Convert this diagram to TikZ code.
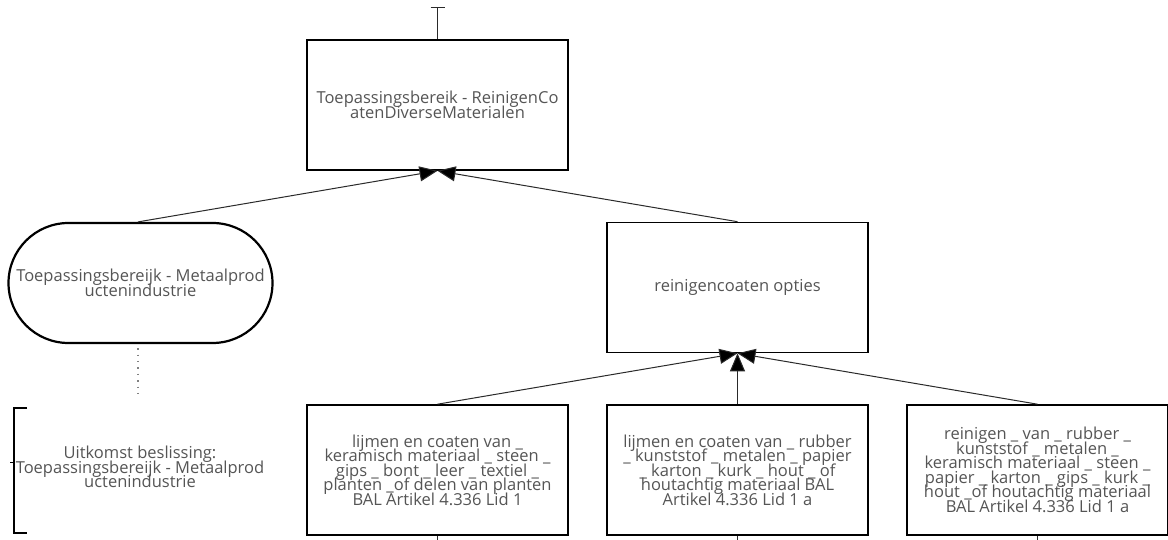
\documentclass[tikz,border=0pt]{standalone}
\usepackage{fontspec}
\setmainfont{Open Sans}
\usetikzlibrary{arrows.meta,shapes.misc}
\definecolor{txt}{HTML}{555555}
\definecolor{conn}{HTML}{2A2A2A}
\newcommand\myboxfont{\fontsize{16.5}{14.5}\selectfont\lineskiplimit=-30pt\relax\lineskip=0pt\relax}
\begin{document}
\begin{tikzpicture}[x=1pt,y=-1pt,
  lbl/.style={font=\myboxfont, text=txt, align=center},
  box/.style={lbl, draw=black, line width=1.6pt, minimum width=261pt, minimum height=130pt, inner sep=0pt},
  stad/.style={lbl, draw=black, line width=2.2pt, rounded rectangle, minimum width=264pt, minimum height=120pt, inner sep=0pt},
  conn/.style={draw=conn, line width=1pt},
  arr/.style={conn, -{Triangle[length=18pt,width=15pt,fill=black]}},
  dots/.style={draw=gray, line width=1.4pt, dash pattern=on 1.4pt off 5pt}
]
\useasboundingbox (0,0) rectangle (1168,540);
\fill[white] (0,0) rectangle (1168,540);

\node[box] (top) at (437.5,105) {Toepassingsbereik - ReinigenCo\\atenDiverseMaterialen};
\coordinate (topstub) at (437.5,7);
\draw[conn, {Bar[width=14pt]}-] (topstub) -- (top.north);

\node[stad] (metaal) at (140.5,283) {Toepassingsbereijk - Metaalprod\\uctenindustrie};
\node[box] (opties) at (737.5,287.5) {reinigencoaten opties};

\node[box] (b1) at (437.5,470) {lijmen en coaten van \_\\keramisch materiaal \_ steen \_\\gips \_ bont \_ leer \_ textiel \_\\planten \_of delen van planten\\BAL Artikel 4.336 Lid 1};
\node[box] (b2) at (737.5,470) {lijmen en coaten van \_ rubber\\\_ kunststof \_ metalen \_ papier\\\_ karton \_ kurk \_ hout \_ of\\houtachtig materiaal BAL\\Artikel 4.336 Lid 1 a};
\node[box] (b3) at (1037.5,470) {reinigen \_ van \_ rubber \_\\kunststof \_ metalen \_\\keramisch materiaal \_ steen \_\\papier \_ karton \_ gips \_ kurk \_\\hout \_of houtachtig materiaal\\BAL Artikel 4.336 Lid 1 a};

\node[lbl, minimum width=0pt] (uitkomst) at (140,467) {Uitkomst beslissing:\\Toepassingsbereijk - Metaalprod\\uctenindustrie};
\draw[line width=1.6pt, black] (27,408) -- (14,408) -- (14,533) -- (27,533);
\draw[line width=1pt, black] (10,462) -- (14,462);

\coordinate (dotend) at (138,398);
\draw[dots] (metaal.south -| dotend) ++(0,4) -- (dotend);

\draw[arr] (metaal.north -| dotend) -- (top.south);
\draw[arr] (opties.north) -- (top.south);
\draw[arr] (b1.north) -- (opties.south);
\draw[arr] (b2.north) -- (opties.south);
\draw[arr] (b3.north) -- (opties.south);

\coordinate (s1) at (437.5,540);
\coordinate (s2) at (737.5,540);
\coordinate (s3) at (1037.5,540);
\draw[conn, line width=1.4pt] (b1.south) -- (s1);
\draw[conn, line width=1.4pt] (b2.south) -- (s2);
\draw[conn, line width=1.4pt] (b3.south) -- (s3);
\end{tikzpicture}
\end{document}
